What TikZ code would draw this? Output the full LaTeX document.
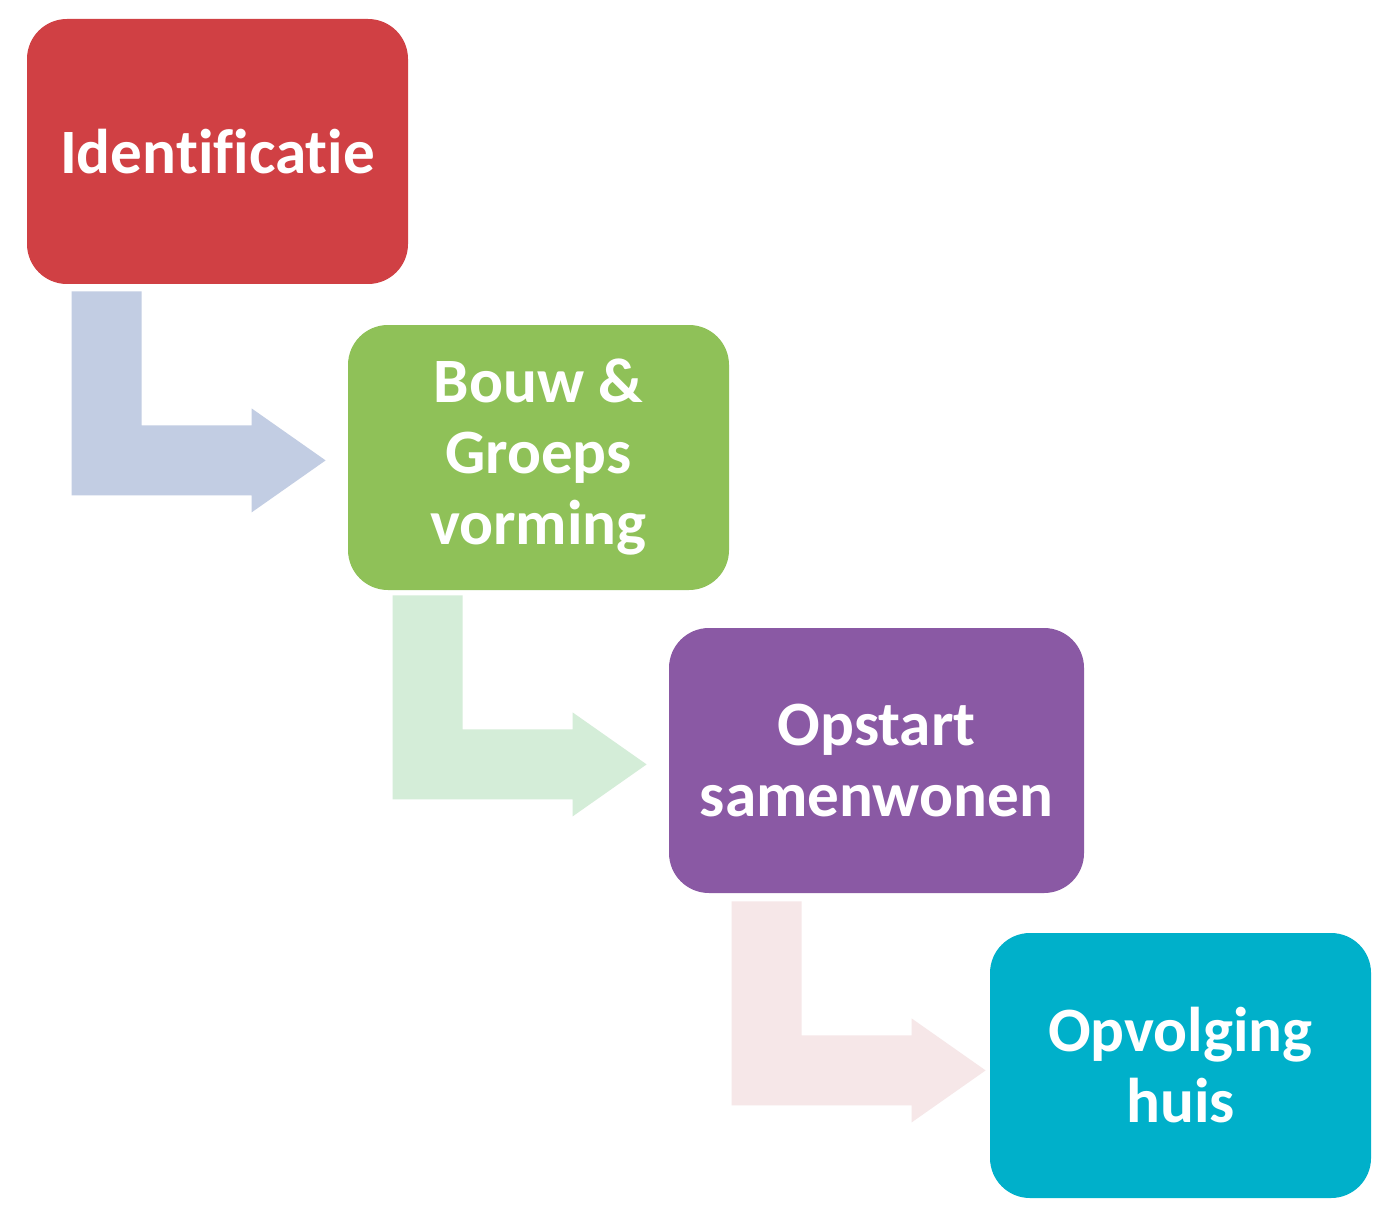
\documentclass[tikz,border=0pt]{standalone}
\usepackage{fontspec}
\setmainfont{Carlito}[Ligatures=NoCommon]
\usetikzlibrary{calc}
\definecolor{cred}{RGB}{208,64,68}
\definecolor{cgreen}{RGB}{143,193,88}
\definecolor{cpurple}{RGB}{138,89,164}
\definecolor{ccyan}{RGB}{0,176,202}
\definecolor{ablue}{RGB}{194,205,227}
\definecolor{agreen}{RGB}{212,237,216}
\definecolor{apink}{RGB}{246,231,232}
\tikzset{
  pics/larrow/.style={code={
    \fill[#1] (0,0) -- (70,0) -- (70,134) -- (180,134) -- (180,117) -- (254,169)
      -- (180,221) -- (180,204) -- (0,204) -- cycle;}}
}
\begin{document}
\begin{tikzpicture}[x=0.5pt,y=-0.5pt,
  stage/.style={rounded corners=20pt, minimum width=190.5pt, minimum height=132.5pt,
    text=white, align=center, inner sep=0pt,
    font=\fontsize{31.6}{35.5}\selectfont\bfseries}]
\useasboundingbox (0,0) rectangle (1400,1219);
\fill[white] (0,0) rectangle (1400,1219);
\node[stage, fill=cred] (b1) at (217.5,151.5) {Identificatie};
\node[stage, fill=cgreen] (b2) at (538.5,457.5) {Bouw \&\\Groeps\\vorming};
\node[stage, fill=cpurple, minimum width=207.5pt] (b3) at (876.5,760.5) {Opstart\\samenwonen};
\node[stage, fill=ccyan] (b4) at (1180.5,1065.5) {Opvolging\\huis};
\coordinate (a1) at ($(b1.south west)+(45,7)$);
\coordinate (a2) at ($(b2.south west)+(45,5)$);
\coordinate (a3) at ($(b3.south west)+(63,8)$);
\pic at (a1) {larrow=ablue};
\pic at (a2) {larrow=agreen};
\pic at (a3) {larrow=apink};
\end{tikzpicture}
\end{document}
